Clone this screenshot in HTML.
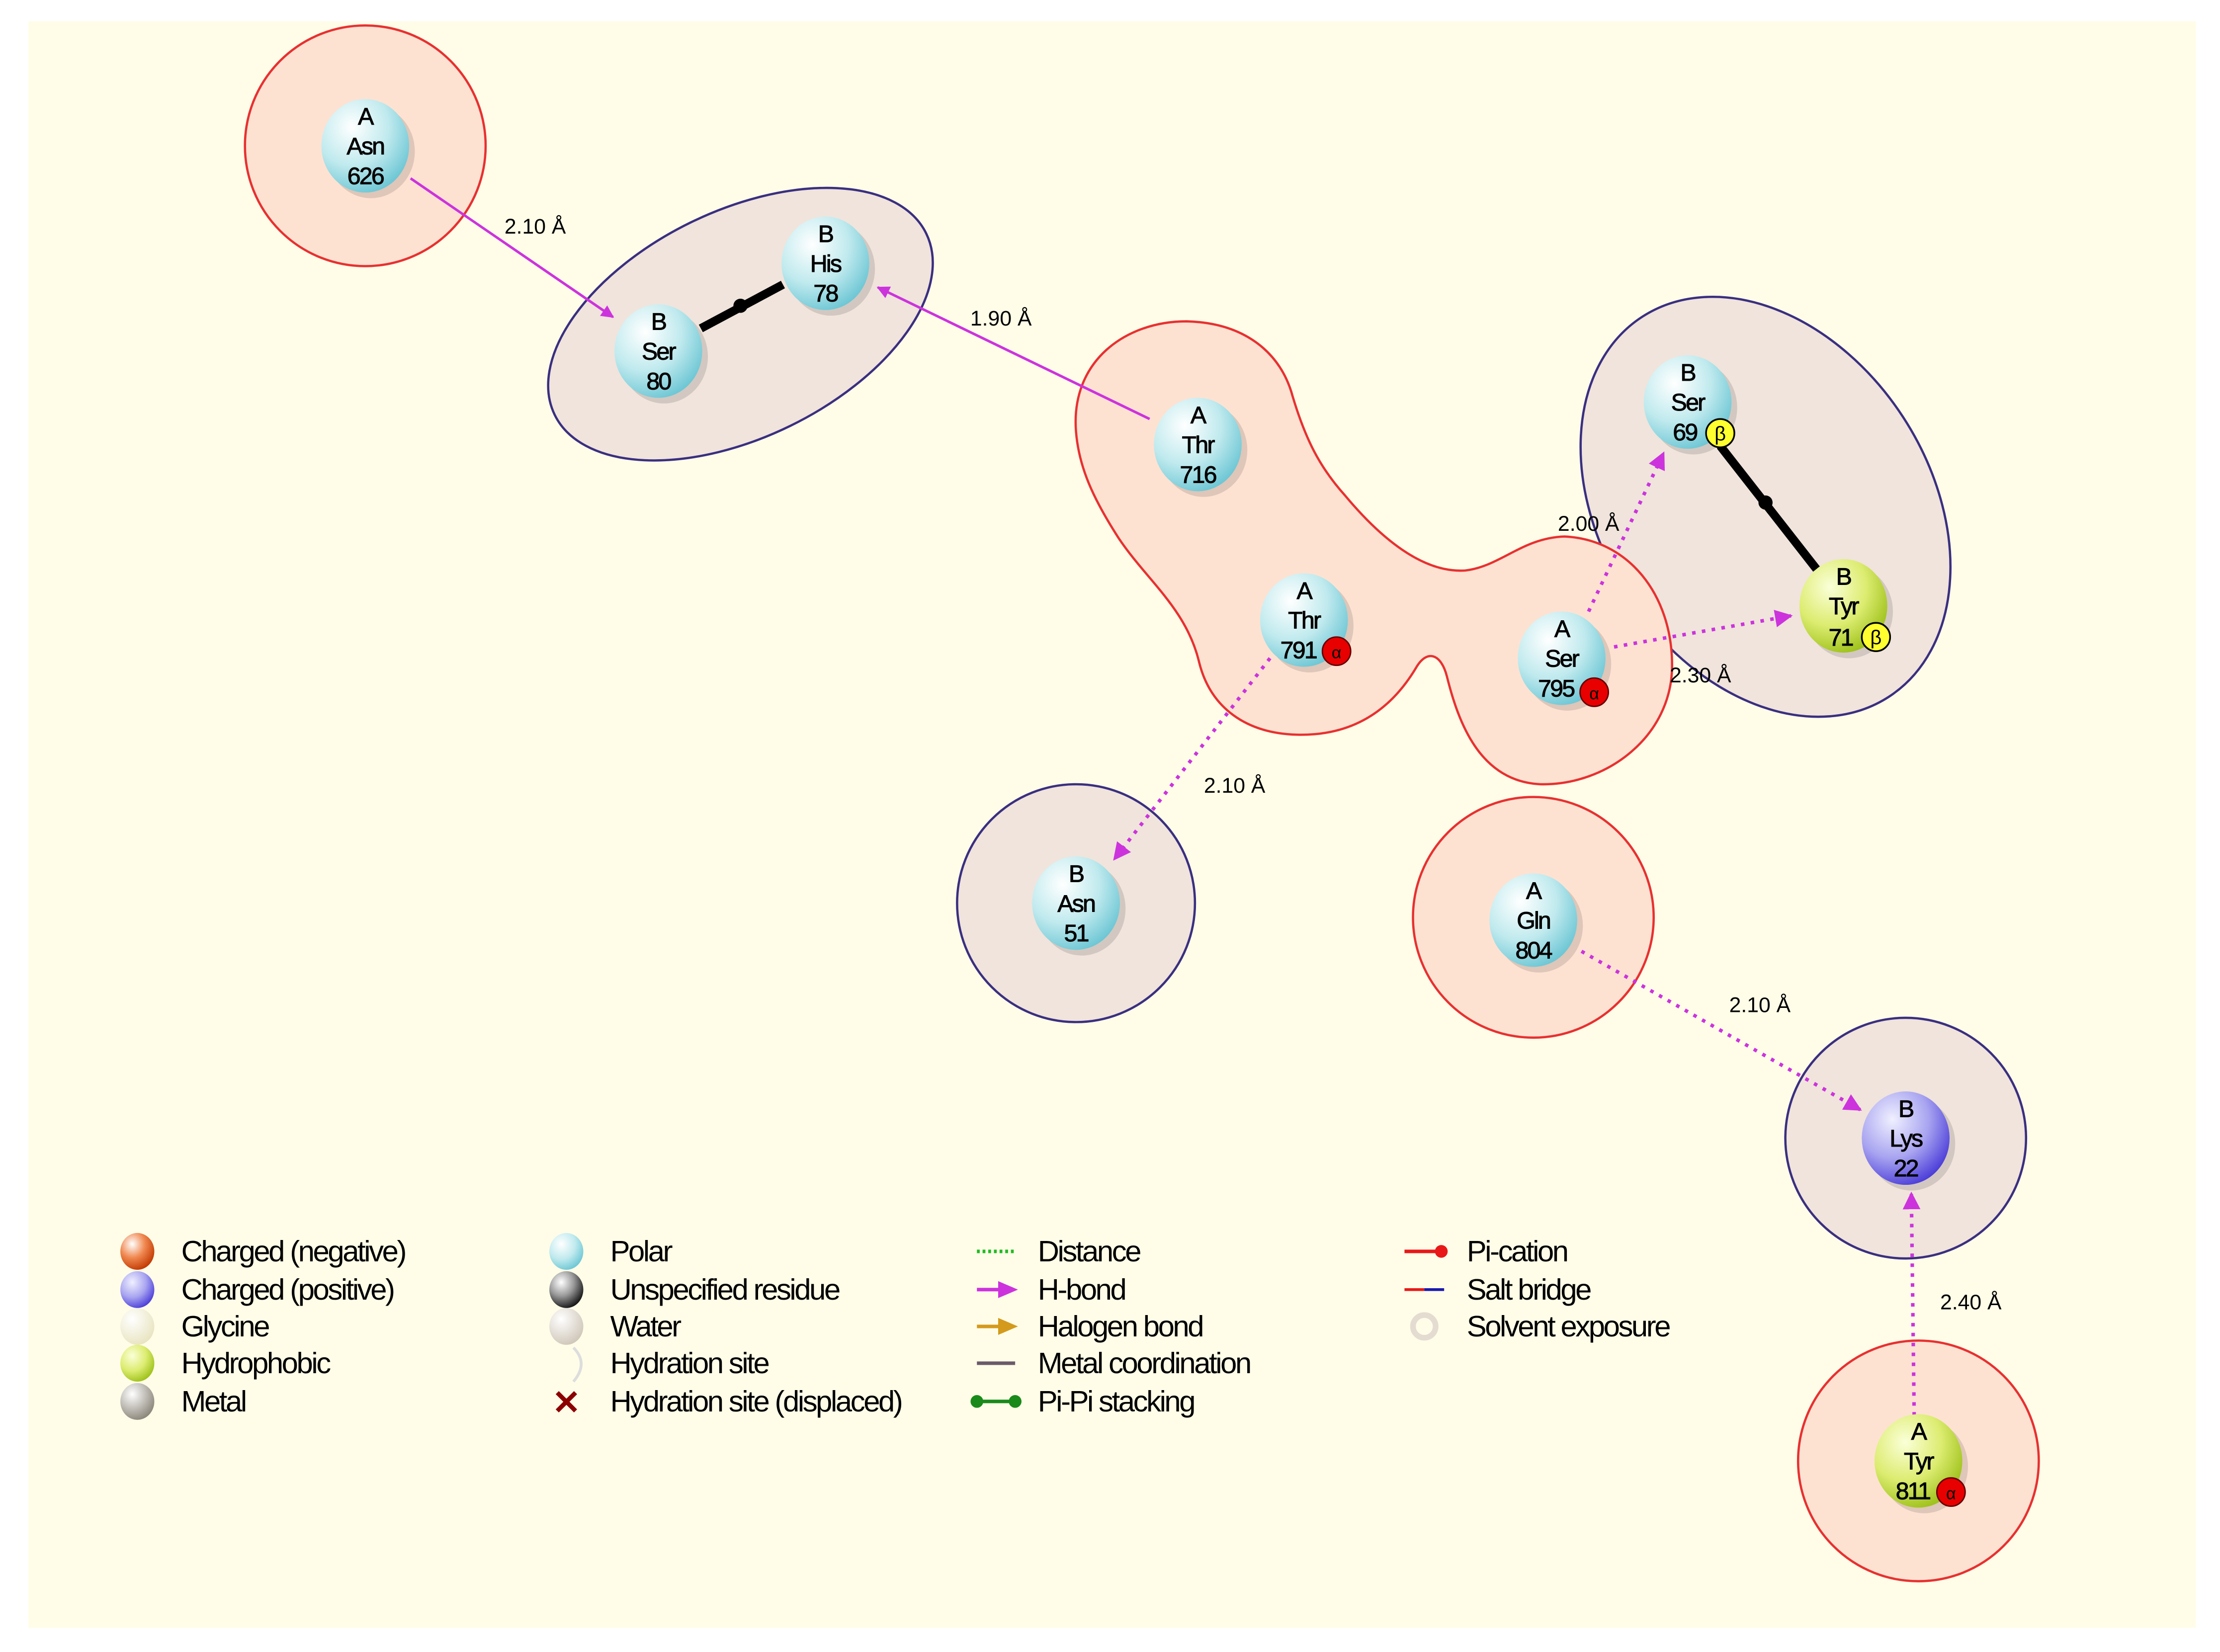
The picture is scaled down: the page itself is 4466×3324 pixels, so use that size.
<!DOCTYPE html>
<html><head><meta charset="utf-8"><style>
html,body{margin:0;padding:0;background:#fff;}
svg{display:block;}
text{font-family:"Liberation Sans",sans-serif;fill:#000;}
.nl{font-size:17px;text-anchor:middle;letter-spacing:-1px;stroke:#000;stroke-width:0.35;}
.dl{font-size:15px;text-anchor:middle;}
.lg{font-size:21px;letter-spacing:-1.2px;}
</style></head><body>
<svg width="4466" height="3324" viewBox="0 0 1568 1167" preserveAspectRatio="none" xmlns="http://www.w3.org/2000/svg">
<defs>
<radialGradient id="gp" cx="0.35" cy="0.3" r="0.75"><stop offset="0" stop-color="#ffffff"/><stop offset="0.55" stop-color="#c0eaee"/><stop offset="1" stop-color="#6cc6d4"/></radialGradient>
<radialGradient id="gh" cx="0.35" cy="0.3" r="0.75"><stop offset="0" stop-color="#fbffd8"/><stop offset="0.55" stop-color="#dcec70"/><stop offset="1" stop-color="#9cc018"/></radialGradient>
<radialGradient id="gk" cx="0.35" cy="0.3" r="0.75"><stop offset="0" stop-color="#f0f0ff"/><stop offset="0.55" stop-color="#a8a4f0"/><stop offset="1" stop-color="#4a3cd8"/></radialGradient>
<radialGradient id="gn" cx="0.35" cy="0.3" r="0.75"><stop offset="0" stop-color="#fff"/><stop offset="0.5" stop-color="#f08850"/><stop offset="1" stop-color="#c03800"/></radialGradient>
<radialGradient id="gu" cx="0.35" cy="0.3" r="0.75"><stop offset="0" stop-color="#fff"/><stop offset="0.5" stop-color="#999"/><stop offset="1" stop-color="#111"/></radialGradient>
<radialGradient id="gg" cx="0.35" cy="0.3" r="0.75"><stop offset="0" stop-color="#fff"/><stop offset="1" stop-color="#e8e4c0"/></radialGradient>
<radialGradient id="gm" cx="0.35" cy="0.3" r="0.75"><stop offset="0" stop-color="#fff"/><stop offset="1" stop-color="#8a8478"/></radialGradient>
<radialGradient id="gw" cx="0.35" cy="0.3" r="0.75"><stop offset="0" stop-color="#fff"/><stop offset="1" stop-color="#cfc6b8"/></radialGradient>
<marker id="ah" viewBox="0 0 10 10" refX="9" refY="5" markerWidth="5" markerHeight="5" orient="auto"><path d="M0,0 L10,5 L0,10 z" fill="#cc33dd"/></marker>
</defs>
<rect x="0" y="0" width="1568" height="1167" fill="#fff"/>
<rect x="20" y="15" width="1531" height="1135" fill="#fffde8"/>

<g stroke-width="1.6">
<circle cx="258" cy="103" r="85" fill="#fde2d2" stroke="#e83030"/>
<ellipse cx="523" cy="229" rx="146" ry="80" transform="rotate(-26 523 229)" fill="#f0e4dc" stroke="#3a2f80"/>
<ellipse cx="1247" cy="358" rx="160" ry="116" transform="rotate(57 1247 358)" fill="#f0e4dc" stroke="#3a2f80"/>
<circle cx="760" cy="638" r="84" fill="#f0e4dc" stroke="#3a2f80"/>
<circle cx="1083" cy="648" r="85" fill="#fde2d2" stroke="#e83030"/>
<circle cx="1346" cy="804" r="85" fill="#f0e4dc" stroke="#3a2f80"/>
<circle cx="1355" cy="1032" r="85" fill="#fde2d2" stroke="#e83030"/>
<path d="M760,305 C756,255 795,227 838,227 C880,228 905,250 913,280 C922,310 932,330 950,350 C975,380 1005,405 1035,403 C1060,400 1075,380 1105,379 C1150,381 1181,420 1181,470 C1181,520 1135,555 1088,554 C1045,552 1030,510 1022,478 C1018,462 1008,458 1000,472 C982,502 955,520 916,519 C880,518 855,500 847,468 C838,430 810,410 790,380 C772,352 762,330 760,305 Z" fill="#fde2d2" stroke="#e83030"/>
</g>

<g stroke="#cc33dd" stroke-width="1.8" fill="none" marker-end="url(#ah)">
<line x1="290" y1="126" x2="433" y2="224"/>
<line x1="812" y1="296" x2="620" y2="203"/>
<g stroke-dasharray="2.5 4.5" stroke-width="2.5">
<line x1="1122" y1="432" x2="1175" y2="320"/>
<line x1="1140" y1="457" x2="1265" y2="435"/>
<line x1="897" y1="465" x2="787" y2="607"/>
<line x1="1117" y1="672" x2="1314" y2="784"/>
<line x1="1352" y1="1000" x2="1350" y2="843"/>
</g>
</g>
<g stroke="#000" stroke-width="6">
<line x1="495" y1="232" x2="553" y2="201"/>
<line x1="1215" y1="315" x2="1283" y2="402"/>
</g>
<circle cx="523" cy="216" r="5"/>
<circle cx="1247" cy="355" r="5"/>

<g class="dl">
<text x="378" y="165">2.10 Å</text>
<text x="707" y="230">1.90 Å</text>
<text x="1122" y="375">2.00 Å</text>
<text x="1201" y="482">2.30 Å</text>
<text x="872" y="560">2.10 Å</text>
<text x="1243" y="715">2.10 Å</text>
<text x="1392" y="925">2.40 Å</text>
</g>

<g>
<ellipse cx="262" cy="107" rx="31" ry="33" fill="#000" opacity="0.12"/>
<ellipse cx="258" cy="103" rx="31" ry="33" fill="url(#gp)"/>
<ellipse cx="469" cy="252" rx="31" ry="33" fill="#000" opacity="0.12"/>
<ellipse cx="465" cy="248" rx="31" ry="33" fill="url(#gp)"/>
<ellipse cx="587" cy="190" rx="31" ry="33" fill="#000" opacity="0.12"/>
<ellipse cx="583" cy="186" rx="31" ry="33" fill="url(#gp)"/>
<ellipse cx="850" cy="318" rx="31" ry="33" fill="#000" opacity="0.12"/>
<ellipse cx="846" cy="314" rx="31" ry="33" fill="url(#gp)"/>
<ellipse cx="925" cy="442" rx="31" ry="33" fill="#000" opacity="0.12"/>
<ellipse cx="921" cy="438" rx="31" ry="33" fill="url(#gp)"/>
<ellipse cx="1107" cy="469" rx="31" ry="33" fill="#000" opacity="0.12"/>
<ellipse cx="1103" cy="465" rx="31" ry="33" fill="url(#gp)"/>
<ellipse cx="1196" cy="288" rx="31" ry="33" fill="#000" opacity="0.12"/>
<ellipse cx="1192" cy="284" rx="31" ry="33" fill="url(#gp)"/>
<ellipse cx="1306" cy="432" rx="31" ry="33" fill="#000" opacity="0.12"/>
<ellipse cx="1302" cy="428" rx="31" ry="33" fill="url(#gh)"/>
<ellipse cx="764" cy="642" rx="31" ry="33" fill="#000" opacity="0.12"/>
<ellipse cx="760" cy="638" rx="31" ry="33" fill="url(#gp)"/>
<ellipse cx="1087" cy="654" rx="31" ry="33" fill="#000" opacity="0.12"/>
<ellipse cx="1083" cy="650" rx="31" ry="33" fill="url(#gp)"/>
<ellipse cx="1350" cy="808" rx="31" ry="33" fill="#000" opacity="0.12"/>
<ellipse cx="1346" cy="804" rx="31" ry="33" fill="url(#gk)"/>
<ellipse cx="1359" cy="1036" rx="31" ry="33" fill="#000" opacity="0.12"/>
<ellipse cx="1355" cy="1032" rx="31" ry="33" fill="url(#gh)"/>
</g>
<g class="nl">
<text x="258" y="88">A</text><text x="258" y="109">Asn</text><text x="258" y="130">626</text>
<text x="465" y="233">B</text><text x="465" y="254">Ser</text><text x="465" y="275">80</text>
<text x="583" y="171">B</text><text x="583" y="192">His</text><text x="583" y="213">78</text>
<text x="846" y="299">A</text><text x="846" y="320">Thr</text><text x="846" y="341">716</text>
<text x="921" y="423">A</text><text x="921" y="444">Thr</text><text x="917" y="465">791</text>
<text x="1103" y="450">A</text><text x="1103" y="471">Ser</text><text x="1099" y="492">795</text>
<text x="1192" y="269">B</text><text x="1192" y="290">Ser</text><text x="1190" y="311">69</text>
<text x="1302" y="413">B</text><text x="1302" y="434">Tyr</text><text x="1300" y="456">71</text>
<text x="760" y="623">B</text><text x="760" y="644">Asn</text><text x="760" y="665">51</text>
<text x="1083" y="635">A</text><text x="1083" y="656">Gln</text><text x="1083" y="677">804</text>
<text x="1346" y="789">B</text><text x="1346" y="810">Lys</text><text x="1346" y="831">22</text>
<text x="1355" y="1017">A</text><text x="1355" y="1038">Tyr</text><text x="1351" y="1059">811</text>
</g>
<g stroke="#600" stroke-width="1">
<circle cx="944" cy="460" r="10" fill="#e80000"/>
<circle cx="1126" cy="489" r="10" fill="#e80000"/>
<circle cx="1378" cy="1054" r="10" fill="#e80000"/>
</g>
<g font-family="Liberation Sans,sans-serif" font-size="12" text-anchor="middle">
<text x="944" y="465">α</text><text x="1126" y="494">α</text><text x="1378" y="1059">α</text>
</g>
<g stroke="#000" stroke-width="1.2" fill="#ffff30">
<circle cx="1215" cy="306" r="10"/>
<circle cx="1325" cy="450" r="10"/>
</g>
<g font-family="Liberation Sans,sans-serif" font-size="14" text-anchor="middle">
<text x="1215" y="311">β</text><text x="1325" y="455">β</text>
</g>

<g>
<ellipse cx="97" cy="884" rx="12" ry="13" fill="url(#gn)"/>
<ellipse cx="97" cy="911" rx="12" ry="13" fill="url(#gk)"/>
<ellipse cx="97" cy="937" rx="12" ry="13" fill="url(#gg)"/>
<ellipse cx="97" cy="963" rx="12" ry="13" fill="url(#gh)"/>
<ellipse cx="97" cy="990" rx="12" ry="13" fill="url(#gm)"/>
<ellipse cx="400" cy="884" rx="12" ry="13" fill="url(#gp)"/>
<ellipse cx="400" cy="911" rx="12" ry="13" fill="url(#gu)"/>
<ellipse cx="400" cy="937" rx="12" ry="13" fill="url(#gw)"/>
<path d="M405,952 Q416,963 405,976" stroke="#ddd" stroke-width="2" fill="none"/>
<text x="390" y="999" font-family="Liberation Sans,sans-serif" font-size="24" font-weight="bold" style="fill:#8b0000">✕</text>
<line x1="690" y1="884" x2="717" y2="884" stroke="#22bb22" stroke-width="2.5" stroke-dasharray="2 2"/>
<line x1="690" y1="911" x2="708" y2="911" stroke="#cc33dd" stroke-width="2.5"/>
<path d="M705,905 L719,911 L705,917z" fill="#cc33dd"/>
<line x1="690" y1="937" x2="708" y2="937" stroke="#d49a1c" stroke-width="2.5"/>
<path d="M705,931 L719,937 L705,943z" fill="#d49a1c"/>
<line x1="690" y1="963" x2="717" y2="963" stroke="#6a5a6a" stroke-width="2.5"/>
<line x1="690" y1="990" x2="717" y2="990" stroke="#1a8a1a" stroke-width="2.5"/>
<circle cx="690" cy="990" r="4.5" fill="#1a8a1a"/><circle cx="717" cy="990" r="4.5" fill="#1a8a1a"/>
<line x1="992" y1="884" x2="1015" y2="884" stroke="#e81818" stroke-width="2.5"/>
<circle cx="1018" cy="884" r="4.5" fill="#e81818"/>
<line x1="992" y1="911" x2="1006" y2="911" stroke="#e81818" stroke-width="2"/>
<line x1="1006" y1="911" x2="1020" y2="911" stroke="#1818b0" stroke-width="2"/>
<circle cx="1006" cy="937" r="8" fill="none" stroke="#e4dcd0" stroke-width="4"/>
</g>
<g class="lg">
<text x="128" y="891">Charged (negative)</text>
<text x="128" y="918">Charged (positive)</text>
<text x="128" y="944">Glycine</text>
<text x="128" y="970">Hydrophobic</text>
<text x="128" y="997">Metal</text>
<text x="431" y="891">Polar</text>
<text x="431" y="918">Unspecified residue</text>
<text x="431" y="944">Water</text>
<text x="431" y="970">Hydration site</text>
<text x="431" y="997">Hydration site (displaced)</text>
<text x="733" y="891">Distance</text>
<text x="733" y="918">H-bond</text>
<text x="733" y="944">Halogen bond</text>
<text x="733" y="970">Metal coordination</text>
<text x="733" y="997">Pi-Pi stacking</text>
<text x="1036" y="891">Pi-cation</text>
<text x="1036" y="918">Salt bridge</text>
<text x="1036" y="944">Solvent exposure</text>
</g>
</svg>
</body></html>
